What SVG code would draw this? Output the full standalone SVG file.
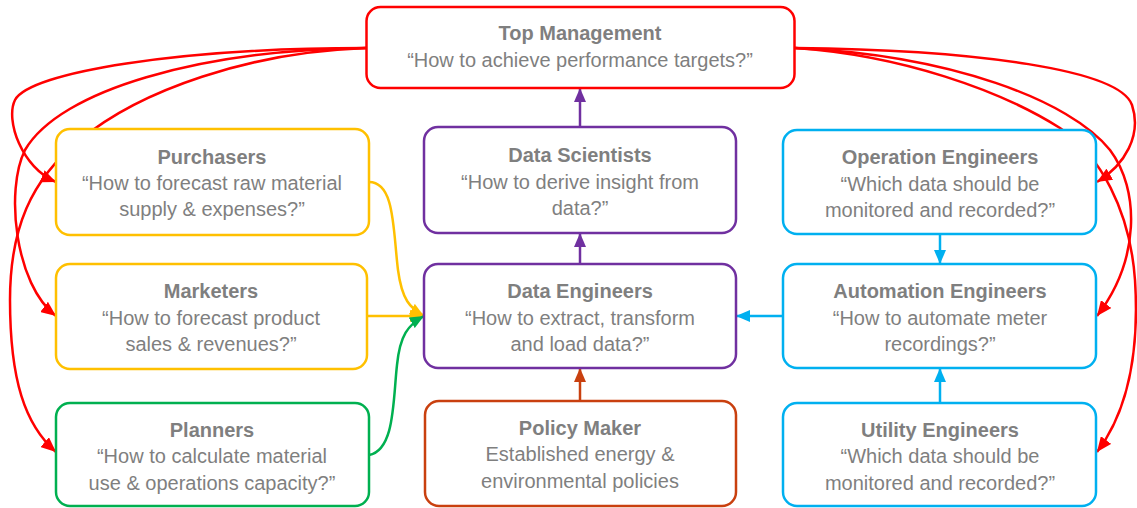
<svg xmlns="http://www.w3.org/2000/svg" width="1137" height="508" viewBox="0 0 1137 508">
<style>
.box{fill:#fff;stroke-width:2.5}
.t{font-family:"Liberation Sans",Arial,sans-serif;font-size:20px;fill:#7f7f7f;text-anchor:middle}
.b{font-weight:bold}
.c{fill:none;stroke-width:2.5}
</style>
<defs>
<marker id="aR" markerUnits="userSpaceOnUse" markerWidth="15" markerHeight="13" refX="15" refY="6.5" orient="auto"><path d="M0,0 L15,6.5 L0,13 z" fill="#ff0000"/></marker>
<marker id="aY" markerUnits="userSpaceOnUse" markerWidth="14" markerHeight="12" refX="14" refY="6" orient="auto"><path d="M0,0 L14,6 L0,12 z" fill="#ffc000"/></marker>
<marker id="aG" markerUnits="userSpaceOnUse" markerWidth="14" markerHeight="12" refX="14" refY="6" orient="auto"><path d="M0,0 L14,6 L0,12 z" fill="#00b050"/></marker>
<marker id="aP" markerUnits="userSpaceOnUse" markerWidth="14" markerHeight="12" refX="14" refY="6" orient="auto"><path d="M0,0 L14,6 L0,12 z" fill="#7030a0"/></marker>
<marker id="aB" markerUnits="userSpaceOnUse" markerWidth="14" markerHeight="12" refX="14" refY="6" orient="auto"><path d="M0,0 L14,6 L0,12 z" fill="#00b0f0"/></marker>
<marker id="aO" markerUnits="userSpaceOnUse" markerWidth="14" markerHeight="12" refX="14" refY="6" orient="auto"><path d="M0,0 L14,6 L0,12 z" fill="#c9400f"/></marker>
</defs>
<g id="connectors">
<path class="c" stroke="#ff0000" marker-end="url(#aR)" d="M366,48 C180,48 30,72 15,100 C5,120 22,168 56,182"/>
<path class="c" stroke="#ff0000" marker-end="url(#aR)" d="M366,48 C200,50 60,90 25,150 C5,190 15,285 56,316"/>
<path class="c" stroke="#ff0000" marker-end="url(#aR)" d="M366,48 C250,52 140,90 80,140 C30,180 10,230 10,300 C10,380 25,425 56,452"/>
<path class="c" stroke="#ff0000" marker-end="url(#aR)" d="M795,48 C980,50 1120,70 1132,105 C1142,135 1125,165 1097,182"/>
<path class="c" stroke="#ff0000" marker-end="url(#aR)" d="M795,48 C950,55 1070,100 1110,150 C1140,190 1140,260 1097,316"/>
<path class="c" stroke="#ff0000" marker-end="url(#aR)" d="M795,48 C900,55 1000,90 1060,128 C1100,155 1130,210 1135,280 C1140,360 1125,415 1097,452"/>
<path class="c" stroke="#ffc000" marker-end="url(#aY)" d="M369,182 C395,182 393,230 398,270 C402,300 410,308 424,316"/>
<path class="c" stroke="#ffc000" marker-end="url(#aY)" d="M367,316 L424,316"/>
<path class="c" stroke="#00b050" marker-end="url(#aG)" d="M369,455 C395,450 393,400 397,365 C400,335 408,325 424,316"/>
<path class="c" stroke="#7030a0" marker-end="url(#aP)" d="M580,264 L580,233"/>
<path class="c" stroke="#7030a0" marker-end="url(#aP)" d="M580,127 L580,88"/>
<path class="c" stroke="#00b0f0" marker-end="url(#aB)" d="M783,316 L736,316"/>
<path class="c" stroke="#00b0f0" marker-end="url(#aB)" d="M940,234 L940,264"/>
<path class="c" stroke="#00b0f0" marker-end="url(#aB)" d="M940,403 L940,368"/>
<path class="c" stroke="#c9400f" marker-end="url(#aO)" d="M580,401 L580,368"/>
</g>
<g id="top-management">
<rect class="box" stroke="#ff0000" x="366.5" y="7" width="428" height="81" rx="14"/>
<text class="t b" x="580" y="40">Top Management</text>
<text class="t" x="580" y="67">“How to achieve performance targets?”</text>
</g>
<g id="purchasers">
<rect class="box" stroke="#ffc000" x="56" y="129" width="313" height="106" rx="14"/>
<text class="t b" x="212" y="164">Purchasers</text>
<text class="t" x="212" y="190">“How to forecast raw material</text>
<text class="t" x="212" y="216">supply &amp; expenses?”</text>
</g>
<g id="marketers">
<rect class="box" stroke="#ffc000" x="56" y="264" width="311" height="105" rx="14"/>
<text class="t b" x="211" y="298">Marketers</text>
<text class="t" x="211" y="325">“How to forecast product</text>
<text class="t" x="211" y="351">sales &amp; revenues?”</text>
</g>
<g id="planners">
<rect class="box" stroke="#00b050" x="56" y="403" width="313" height="103" rx="14"/>
<text class="t b" x="212" y="437">Planners</text>
<text class="t" x="212" y="463">“How to calculate material</text>
<text class="t" x="212" y="490">use &amp; operations capacity?”</text>
</g>
<g id="data-scientists">
<rect class="box" stroke="#7030a0" x="424" y="127" width="312" height="106" rx="14"/>
<text class="t b" x="580" y="162">Data Scientists</text>
<text class="t" x="580" y="189">“How to derive insight from</text>
<text class="t" x="580" y="215">data?”</text>
</g>
<g id="data-engineers">
<rect class="box" stroke="#7030a0" x="424" y="264" width="312" height="104" rx="14"/>
<text class="t b" x="580" y="298">Data Engineers</text>
<text class="t" x="580" y="325">“How to extract, transform</text>
<text class="t" x="580" y="351">and load data?”</text>
</g>
<g id="policy-maker">
<rect class="box" stroke="#c9400f" x="425" y="401" width="311" height="105" rx="14"/>
<text class="t b" x="580" y="435">Policy Maker</text>
<text class="t" x="580" y="461">Established energy &amp;</text>
<text class="t" x="580" y="488">environmental policies</text>
</g>
<g id="operation-engineers">
<rect class="box" stroke="#00b0f0" x="783" y="130" width="313" height="104" rx="14"/>
<text class="t b" x="940" y="164">Operation Engineers</text>
<text class="t" x="940" y="191">“Which data should be</text>
<text class="t" x="940" y="217">monitored and recorded?”</text>
</g>
<g id="automation-engineers">
<rect class="box" stroke="#00b0f0" x="783" y="264" width="313" height="104" rx="14"/>
<text class="t b" x="940" y="298">Automation Engineers</text>
<text class="t" x="940" y="325">“How to automate meter</text>
<text class="t" x="940" y="351">recordings?”</text>
</g>
<g id="utility-engineers">
<rect class="box" stroke="#00b0f0" x="783" y="403" width="313" height="103" rx="14"/>
<text class="t b" x="940" y="437">Utility Engineers</text>
<text class="t" x="940" y="463">“Which data should be</text>
<text class="t" x="940" y="490">monitored and recorded?”</text>
</g>
</svg>
